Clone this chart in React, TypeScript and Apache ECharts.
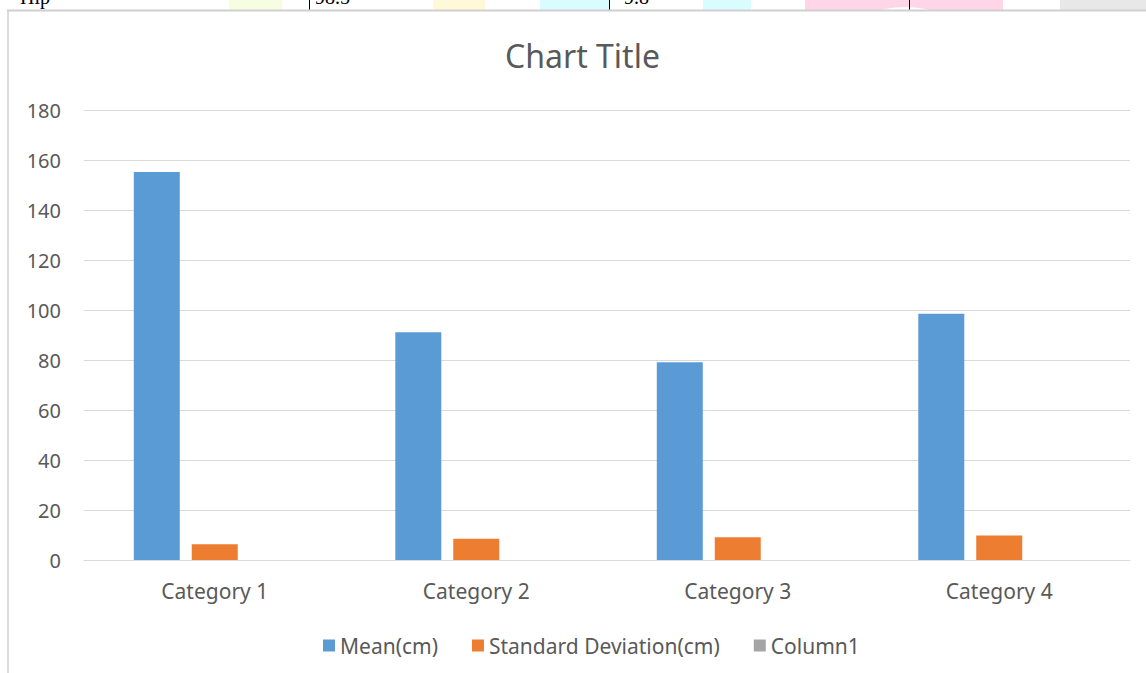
import React, { useEffect, useRef } from "react";
import * as echarts from "echarts";

const categories = ["Category 1", "Category 2", "Category 3", "Category 4"];
const meanValues = [155.2, 91.1, 79.1, 98.5];
const sdValues = [6.3, 8.5, 9.1, 9.8];
const column1Values: (number | null)[] = [null, null, null, null];
const seriesNames = ["Mean(cm)", "Standard Deviation(cm)", "Column1"];
const yTicks = { min: 0, max: 180, interval: 20 };

const FONT = "'Noto Sans', 'Open Sans', sans-serif";
const TEXT = "#595959";

export default function App() {
  const ref = useRef<HTMLDivElement>(null);
  useEffect(() => {
    document.body.style.margin = "0";
    const chart = echarts.init(ref.current!, null, { renderer: "svg" });
    chart.setOption({
      animation: false,
      backgroundColor: "#ffffff",
      title: {
        text: "Chart Title",
        left: 505,
        top: 39,
        padding: 0,
        textStyle: { fontFamily: FONT, fontSize: 32, fontWeight: "normal", color: TEXT },
      },
      legend: {
        data: seriesNames,
        left: 318,
        top: 630,
        icon: "rect",
        itemWidth: 12,
        itemHeight: 12,
        itemGap: 34,
        textStyle: { fontFamily: FONT, fontSize: 21, color: TEXT },
      },
      grid: { left: 84, right: 16, top: 110, bottom: 113, containLabel: false },
      xAxis: {
        type: "category",
        data: categories,
        axisLine: { lineStyle: { color: "#d9d9d9", width: 1 } },
        axisTick: { show: false },
        axisLabel: { fontFamily: FONT, fontSize: 21, color: TEXT, margin: 20 },
      },
      yAxis: {
        type: "value",
        min: yTicks.min,
        max: yTicks.max,
        interval: yTicks.interval,
        axisLine: { show: false },
        axisTick: { show: false },
        splitLine: { lineStyle: { color: "#d9d9d9", width: 1 } },
        axisLabel: { fontFamily: FONT, fontSize: 20, color: TEXT, margin: 23 },
      },
      series: [
        { name: seriesNames[0], type: "bar", data: meanValues, barWidth: 46, barGap: "26%", itemStyle: { color: "#5b9bd5" } },
        { name: seriesNames[1], type: "bar", data: sdValues, barWidth: 46, barGap: "26%", itemStyle: { color: "#ed7d31" } },
        { name: seriesNames[2], type: "bar", data: column1Values, barWidth: 46, barGap: "26%", itemStyle: { color: "#a5a5a5" } },
      ],
      graphic: [
        // table fragment above the chart frame
        { type: "rect", shape: { x: 229, y: 0, width: 53, height: 10 }, style: { fill: "#f7fde1" }, silent: true },
        { type: "rect", shape: { x: 433, y: 0, width: 52, height: 10 }, style: { fill: "#fff8d9" }, silent: true },
        { type: "rect", shape: { x: 540, y: 0, width: 69, height: 10 }, style: { fill: "#d9fcff" }, silent: true },
        { type: "rect", shape: { x: 703, y: 0, width: 48, height: 10 }, style: { fill: "#d9fcff" }, silent: true },
        { type: "rect", shape: { x: 805, y: 0, width: 198, height: 10 }, style: { fill: "#ffd6e8" }, silent: true },
        { type: "ellipse", shape: { cx: 905, cy: 34, rx: 52, ry: 27 }, style: { fill: "#ffffff" }, silent: true },
        { type: "rect", shape: { x: 1060, y: 0, width: 86, height: 10 }, style: { fill: "#e8e8e8" }, silent: true },
        { type: "line", shape: { x1: 309.5, y1: 0, x2: 309.5, y2: 10 }, style: { stroke: "#000000", lineWidth: 1 }, silent: true },
        { type: "line", shape: { x1: 609.5, y1: 0, x2: 609.5, y2: 10 }, style: { stroke: "#000000", lineWidth: 1 }, silent: true },
        { type: "line", shape: { x1: 909.5, y1: 0, x2: 909.5, y2: 10 }, style: { stroke: "#000000", lineWidth: 1 }, silent: true },
        { type: "text", x: 20, y: 7, style: { text: "Hip", font: "20px 'Liberation Serif', serif", fill: "#000000", textVerticalAlign: "bottom" }, silent: true },
        { type: "text", x: 315, y: 7, style: { text: "98.5", font: "20px 'Liberation Serif', serif", fill: "#000000", textVerticalAlign: "bottom" }, silent: true },
        { type: "text", x: 624, y: 7, style: { text: "9.8", font: "20px 'Liberation Serif', serif", fill: "#000000", textVerticalAlign: "bottom" }, silent: true },
        // chart frame
        { type: "rect", shape: { x: 8, y: 10, width: 1138, height: 663 }, style: { fill: "#ffffff" }, silent: true, z: -1 },
        { type: "line", shape: { x1: 7, y1: 10.5, x2: 1146, y2: 10.5 }, style: { stroke: "#d0d0d0", lineWidth: 2 }, silent: true },
        { type: "line", shape: { x1: 8, y1: 10, x2: 8, y2: 673 }, style: { stroke: "#d0d0d0", lineWidth: 1.5 }, silent: true },
      ],
    });
    return () => chart.dispose();
  }, []);
  return <div ref={ref} style={{ width: 1146, height: 673 }} />;
}
